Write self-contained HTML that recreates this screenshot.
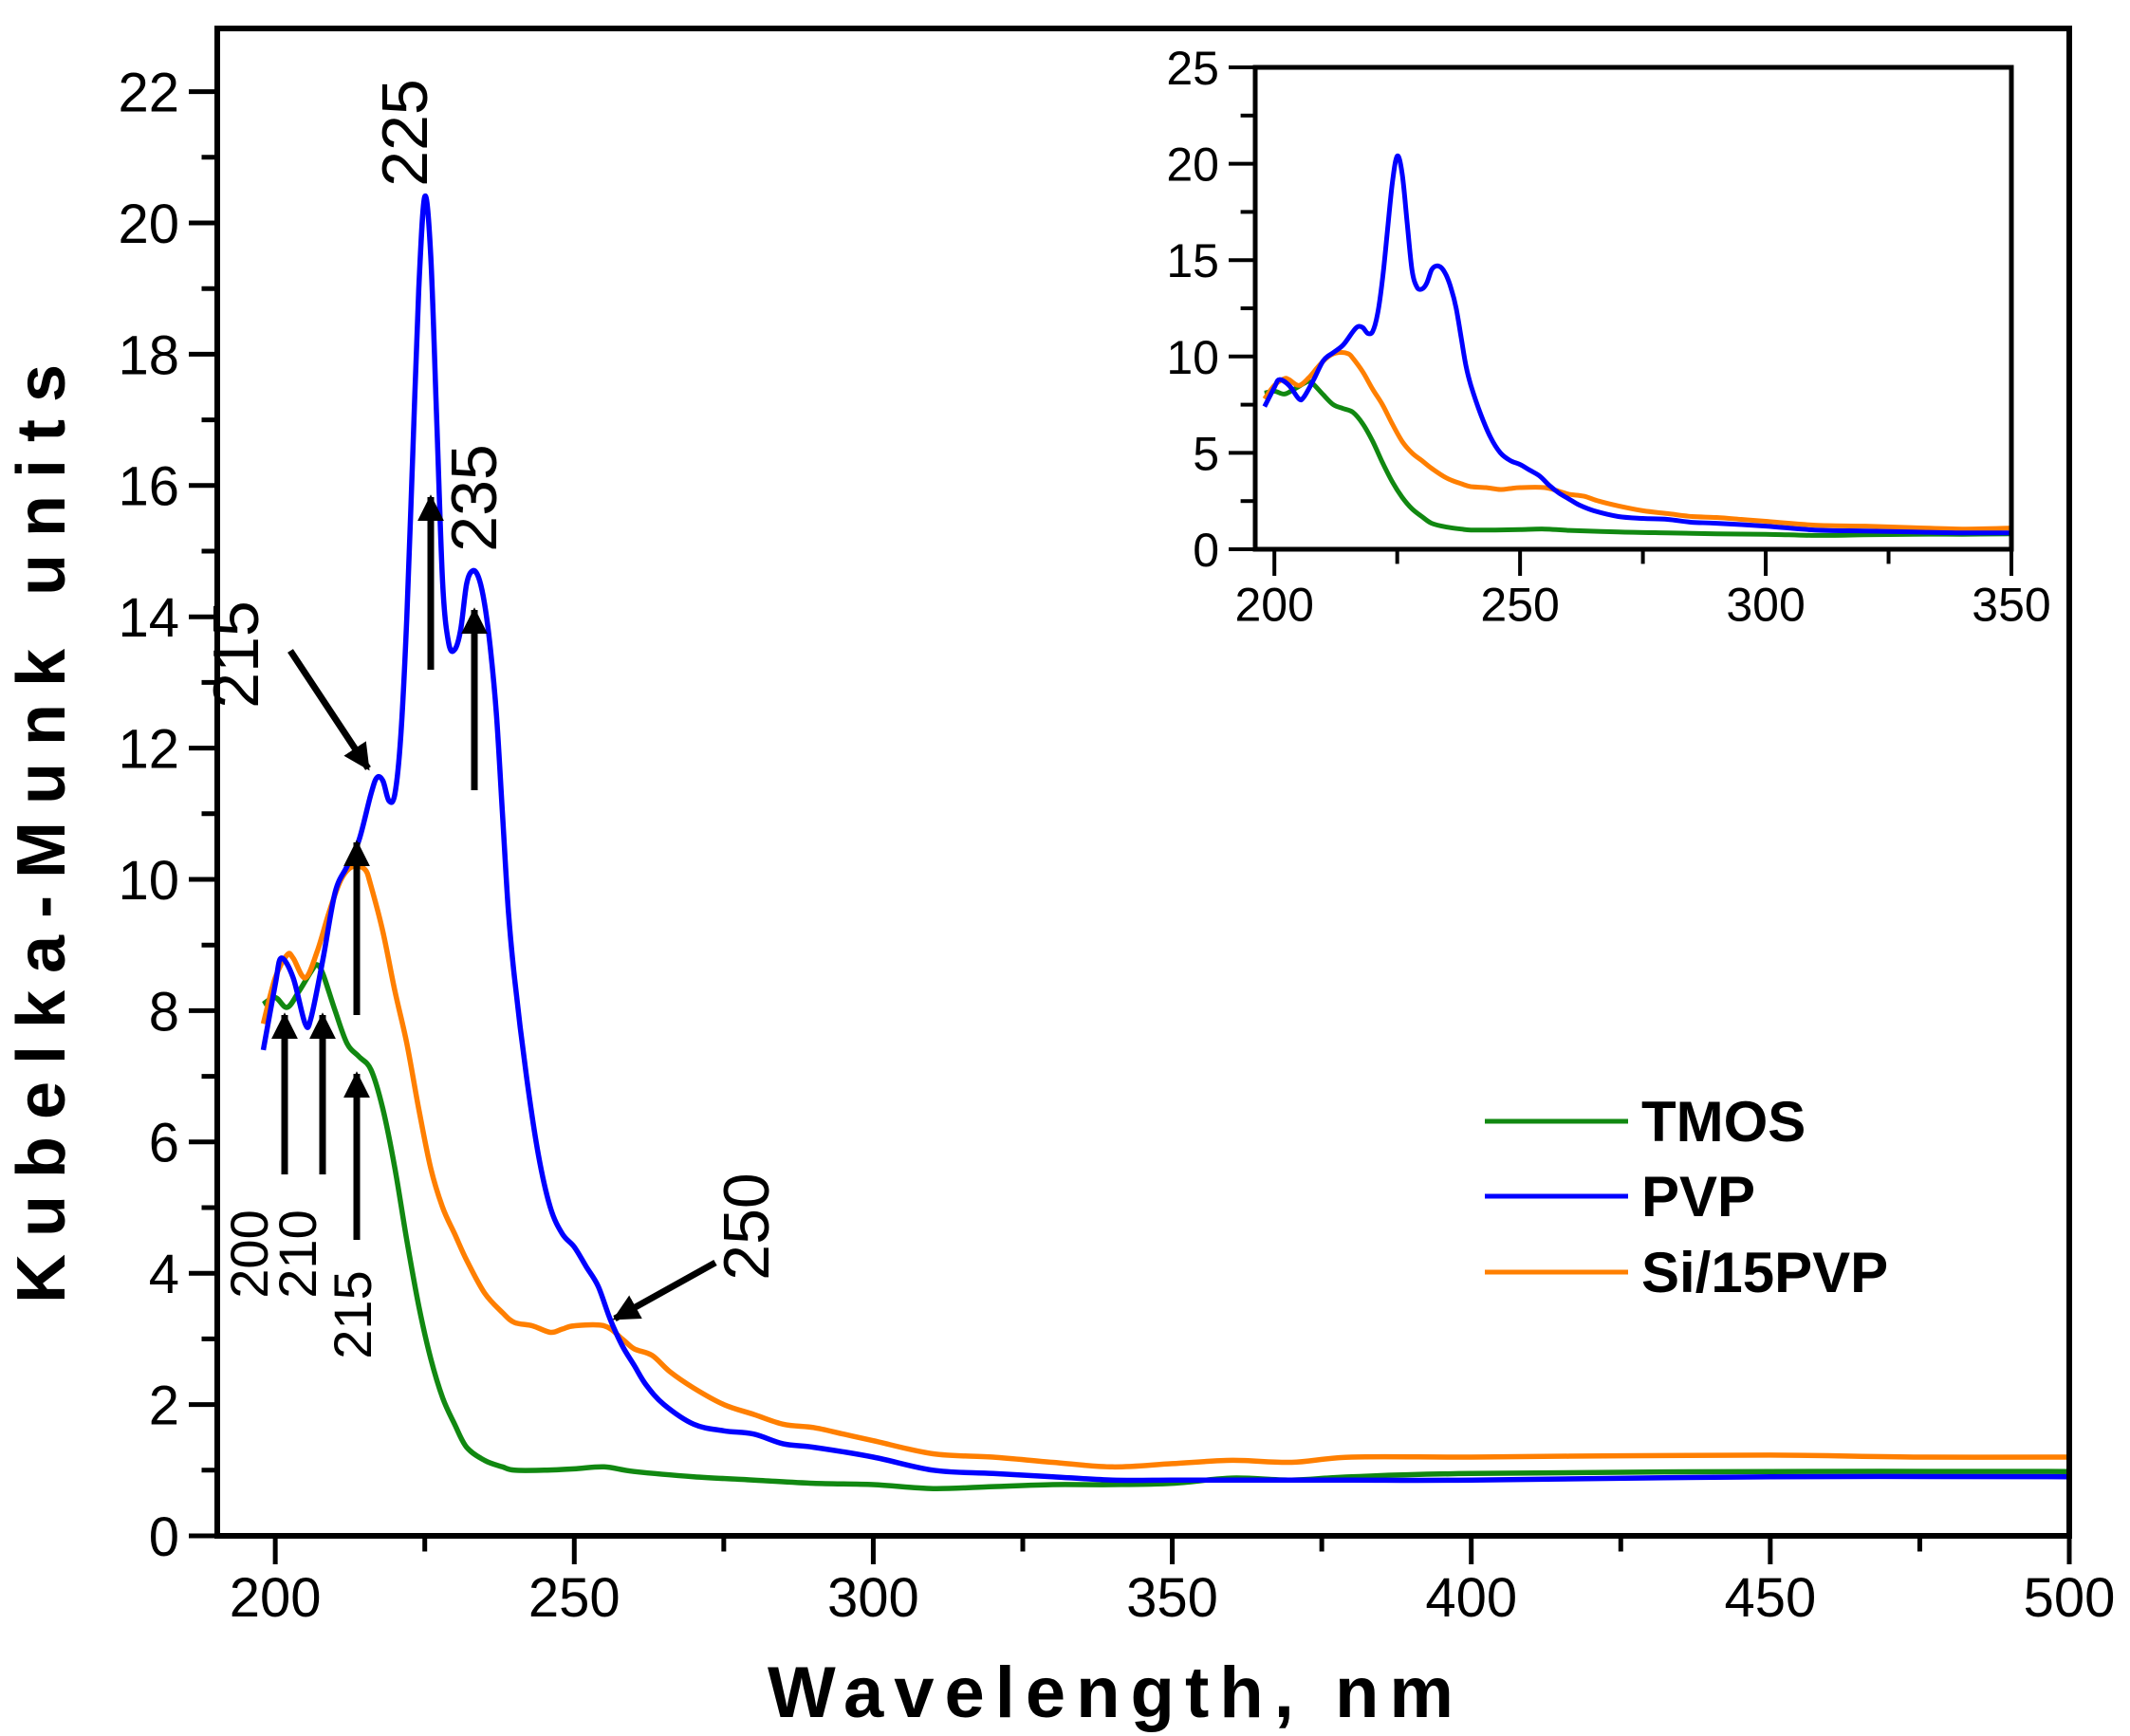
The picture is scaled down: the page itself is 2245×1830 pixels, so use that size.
<!DOCTYPE html>
<html><head><meta charset="utf-8"><style>
html,body{margin:0;padding:0;background:#fff;}
svg{display:block;font-family:"Liberation Sans",Arial,sans-serif;}
</style></head><body>
<svg id="chart" width="2245" height="1830" viewBox="0 0 2245 1830" xmlns="http://www.w3.org/2000/svg">
<defs><marker id="ah" viewBox="0 0 10 10" refX="9" refY="5" markerWidth="4" markerHeight="4" orient="auto"><path d="M0,0 L10,5 L0,10 z" fill="#000"/></marker></defs>
<g id="main"></g>
<g id="inset"></g>
<text x="1176" y="1810" text-anchor="middle" font-size="76" font-weight="bold" letter-spacing="11">Wavelength, nm</text>
<text transform="translate(68,870) rotate(-90)" text-anchor="middle" font-size="72" font-weight="bold" letter-spacing="18">Kubelka-Munk units</text>
<g>
<line x1="1565" y1="1182" x2="1716" y2="1182" stroke="#118811" stroke-width="5"/>
<text x="1730" y="1203" font-size="60" font-weight="bold">TMOS</text>
<line x1="1565" y1="1261" x2="1716" y2="1261" stroke="#0000ff" stroke-width="5"/>
<text x="1730" y="1282" font-size="60" font-weight="bold">PVP</text>
<line x1="1565" y1="1341" x2="1716" y2="1341" stroke="#ff7f00" stroke-width="5"/>
<text x="1730" y="1362" font-size="60" font-weight="bold">Si/15PVP</text>
</g>
<g id="ann"></g>
</svg>
<script>
const categoriesNote = "wavelength (nm) / Kubelka-Munk";
const pvpX = [198,200,201,203,205,206,208,210,212,214,216,217,218,219,220,221,222,223,224,225,226,227,228,229,230,231,232,233,234,235,236,237,238,239,240,242,244,246,248,250,252,254,256,258,260,262,265,270,275,280,285,290,300,310,320,330,340,350,360,380,400,450,500];
const pvpY = [7.4,8.4,8.8,8.5,7.8,7.9,8.8,9.8,10.2,10.6,11.3,11.55,11.5,11.2,11.3,12.2,14,16.5,19,20.4,19.5,17,14.5,13.6,13.5,13.8,14.5,14.7,14.6,14.2,13.5,12.5,11,9.5,8.5,7,5.8,5,4.6,4.4,4.1,3.8,3.3,2.9,2.6,2.3,2,1.7,1.6,1.55,1.4,1.35,1.2,1.0,0.95,0.9,0.85,0.85,0.85,0.85,0.85,0.9,0.9];
const siX = [198,200,202,203,205,207,209,211,213,215,216,218,220,222,224,226,228,230,232,235,238,240,243,246,248,250,255,258,260,263,266,270,275,280,285,290,295,300,310,320,330,340,350,360,370,380,400,425,450,475,500];
const siY = [7.8,8.5,8.85,8.8,8.5,8.9,9.5,10.0,10.2,10.15,9.9,9.2,8.3,7.5,6.5,5.6,5.0,4.6,4.2,3.7,3.4,3.25,3.2,3.1,3.15,3.2,3.2,3.0,2.85,2.75,2.5,2.25,2.0,1.85,1.7,1.65,1.55,1.45,1.25,1.2,1.12,1.05,1.1,1.15,1.12,1.2,1.2,1.22,1.23,1.2,1.2];
const tmosX = [198,200,202,204,206,207,208,210,212,214,216,218,220,222,224,226,228,230,232,235,238,240,245,250,255,260,270,280,290,300,310,320,330,340,350,360,370,380,400,450,500];
const tmosY = [8.1,8.2,8.05,8.3,8.6,8.7,8.55,8.0,7.5,7.3,7.1,6.5,5.6,4.5,3.5,2.7,2.1,1.7,1.35,1.15,1.05,1.0,1.0,1.02,1.05,0.98,0.9,0.85,0.8,0.78,0.72,0.75,0.78,0.78,0.8,0.88,0.85,0.9,0.95,0.98,0.98];
const mainXTicks = [200,250,300,350,400,450,500];
const mainYTicks = [0,2,4,6,8,10,12,14,16,18,20,22];
const insetXTicks = [200,250,300,350];
const insetYTicks = [0,5,10,15,20,25];

const NS="http://www.w3.org/2000/svg";
function mk(parent,tag,attrs){const e=document.createElementNS(NS,tag);for(const k in attrs)e.setAttribute(k,attrs[k]);parent.appendChild(e);return e;}
function smooth(pts){let d="M"+pts[0][0].toFixed(1)+","+pts[0][1].toFixed(1);
 for(let i=0;i<pts.length-1;i++){const p0=pts[Math.max(0,i-1)],p1=pts[i],p2=pts[i+1],p3=pts[Math.min(pts.length-1,i+2)];
  const c1=[p1[0]+(p2[0]-p0[0])/6,p1[1]+(p2[1]-p0[1])/6],c2=[p2[0]-(p3[0]-p1[0])/6,p2[1]-(p3[1]-p1[1])/6];
  d+=" C"+c1[0].toFixed(1)+","+c1[1].toFixed(1)+" "+c2[0].toFixed(1)+","+c2[1].toFixed(1)+" "+p2[0].toFixed(1)+","+p2[1].toFixed(1);}
 return d;}
const series=[["tmos",tmosX,tmosY,"#118811"],["si15pvp",siX,siY,"#ff7f00"],["pvp",pvpX,pvpY,"#0000ff"]];

function plot(g,cfg){
 const sx=v=>cfg.L+(v-cfg.x0)/(cfg.x1-cfg.x0)*(cfg.R-cfg.L);
 const sy=v=>cfg.B-(v-cfg.y0)/(cfg.y1-cfg.y0)*(cfg.B-cfg.T);
 series.forEach(s=>{const pts=[];s[1].forEach((x,i)=>{if(x<=cfg.x1)pts.push([sx(x),sy(s[2][i])]);});
  const p=mk(g,"path",{d:smooth(pts),fill:"none",stroke:s[3],"stroke-width":cfg.lw,"stroke-linejoin":"round"});
  
  });
 const f=mk(g,"rect",{x:cfg.L,y:cfg.T,width:cfg.R-cfg.L,height:cfg.B-cfg.T,fill:"none",stroke:"#000","stroke-width":cfg.aw});
 
 
 for(let v=cfg.xt[0]-cfg.xm;v<=cfg.x1+0.01;v+=cfg.xm){if(v<cfg.x0)continue;const maj=cfg.xt.includes(Math.round(v));const X=sx(v);
  const t=mk(g,"line",{x1:X,y1:cfg.B,x2:X,y2:cfg.B+(maj?cfg.tl:cfg.tl*0.55),stroke:"#000","stroke-width":cfg.tw});
  
  }
 cfg.xt.forEach(v=>{const t=mk(g,"text",{x:sx(v),y:cfg.B+cfg.tl+cfg.fs*0.95,"text-anchor":"middle","font-size":cfg.fs});t.textContent=v;
  
  });
 for(let v=cfg.y0;v<=cfg.y1+0.01;v+=cfg.ym){const maj=cfg.yt.some(q=>Math.abs(q-v)<0.01);const Y=sy(v);
  const t=mk(g,"line",{x1:cfg.L,y1:Y,x2:cfg.L-(maj?cfg.tl:cfg.tl*0.55),y2:Y,stroke:"#000","stroke-width":cfg.tw});
  
  }
 cfg.yt.forEach(v=>{const t=mk(g,"text",{x:cfg.L-cfg.tl-10,y:sy(v)+cfg.fs*0.36,"text-anchor":"end","font-size":cfg.fs});t.textContent=v;
  
  });
}
plot(document.getElementById("main"),{pre:"main-",L:229,R:2181,T:30,B:1619,x0:190.3,x1:500,y0:0,y1:(1619-30)/69.2,xt:mainXTicks,xm:25,yt:mainYTicks,ym:1,lw:5.5,aw:6,tw:5,tl:30,fs:58});
plot(document.getElementById("inset"),{pre:"inset-",L:1323,R:2120,T:71,B:579,x0:196.1,x1:350,y0:0,y1:25,xt:insetXTicks,xm:25,yt:insetYTicks,ym:2.5,lw:5,aw:5,tw:4,tl:28,fs:50});

const ann=document.getElementById("ann");
[["225",450,140,68],["235",523,525,68],["215",272,690,68],["250",810,1293,68],["200",282,1322,56],["210",333,1322,56],["215",391,1386,56]].forEach(a=>{
 const t=mk(ann,"text",{transform:"translate("+a[1]+","+a[2]+") rotate(-90)","text-anchor":"middle","font-size":a[3]});t.textContent=a[0];
 
 });
[[454,706,454,524],[500,833,500,643],[306,686,388,810],[754,1331,648,1390],[300,1238,300,1070],[340,1238,340,1070],[376,1307,376,1132],[376,1070,376,888]].forEach(a=>{
 const l=mk(ann,"line",{x1:a[0],y1:a[1],x2:a[2],y2:a[3],stroke:"#000","stroke-width":7,"marker-end":"url(#ah)"});
 
 });
</script>
</body></html>
